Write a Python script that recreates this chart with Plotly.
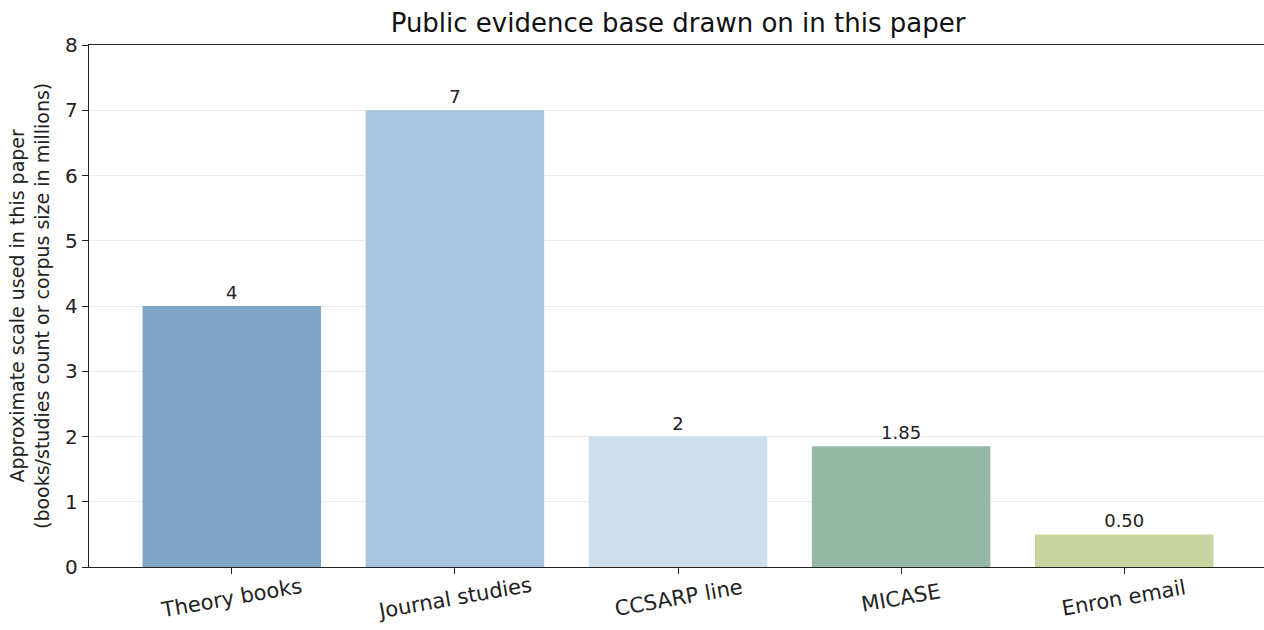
import plotly.graph_objects as go

categories = ["Theory books", "Journal studies", "CCSARP line", "MICASE", "Enron email"]
values = [4, 7, 2, 1.85, 0.50]
labels = ["4", "7", "2", "1.85", "0.50"]
colors = ["#7fa6c6", "#a9c4df", "#cddeec", "#98b8a7", "#c8d5a0"]
y_ticks = [0, 1, 2, 3, 4, 5, 6, 7, 8]

FONT = "DejaVu Sans"
W, H = 1267, 630
L, R, T, B = 89, 0, 45, 63

fig = go.Figure(
    go.Bar(
        x=list(range(len(categories))),
        y=values,
        width=0.8,
        marker=dict(color=colors, line=dict(width=0)),
        text=labels,
        textposition="outside",
        textfont=dict(family=FONT, size=18, color="#222222"),
        cliponaxis=False,
        hoverinfo="skip",
    )
)

annotations = [
    dict(
        text="Approximate scale used in this paper<br>(books/studies count or corpus size in millions)",
        textangle=-90,
        xref="paper",
        yref="paper",
        x=(29 - L) / (W - L - R),
        y=0.5,
        xanchor="center",
        yanchor="middle",
        showarrow=False,
        font=dict(family=FONT, size=19, color="#222222"),
    )
]
for i, c in enumerate(categories):
    annotations.append(
        dict(
            text=c,
            textangle=-10,
            xref="x",
            yref="paper",
            x=i,
            y=0,
            xanchor="center",
            yanchor="middle",
            yshift=-31,
            showarrow=False,
            font=dict(family=FONT, size=21, color="#222222"),
        )
    )

fig.update_layout(
    width=W,
    height=H,
    paper_bgcolor="white",
    plot_bgcolor="white",
    margin=dict(l=L, r=R, t=T, b=B, autoexpand=False),
    showlegend=False,
    title=dict(
        text="Public evidence base drawn on in this paper",
        x=(L + W) / 2 / W,
        xanchor="center",
        y=1 - 23 / H,
        yanchor="middle",
        font=dict(family=FONT, size=26, color="#111111"),
    ),
    font=dict(family=FONT, color="#222222"),
    annotations=annotations,
)

fig.update_xaxes(
    range=[-0.64, 4.64],
    tickmode="array",
    tickvals=list(range(len(categories))),
    ticktext=["" for _ in categories],
    ticks="outside",
    ticklen=6,
    tickcolor="#222222",
    showline=True,
    linecolor="#222222",
    linewidth=1.4,
    mirror=True,
    showgrid=False,
    zeroline=False,
    automargin=False,
)

fig.update_yaxes(
    range=[0, 8],
    tickmode="array",
    tickvals=y_ticks,
    ticktext=[str(t) for t in y_ticks],
    ticks="outside",
    ticklen=6,
    tickcolor="#222222",
    tickfont=dict(family=FONT, size=20, color="#222222"),
    showline=True,
    linecolor="#222222",
    linewidth=1.4,
    showgrid=True,
    gridcolor="#ebebeb",
    gridwidth=1,
    zeroline=False,
    automargin=False,
)

fig.write_html(
    "out.html",
    config={"displayModeBar": False},
    post_script="document.body.style.margin='0';document.body.style.overflow='hidden';",
)
